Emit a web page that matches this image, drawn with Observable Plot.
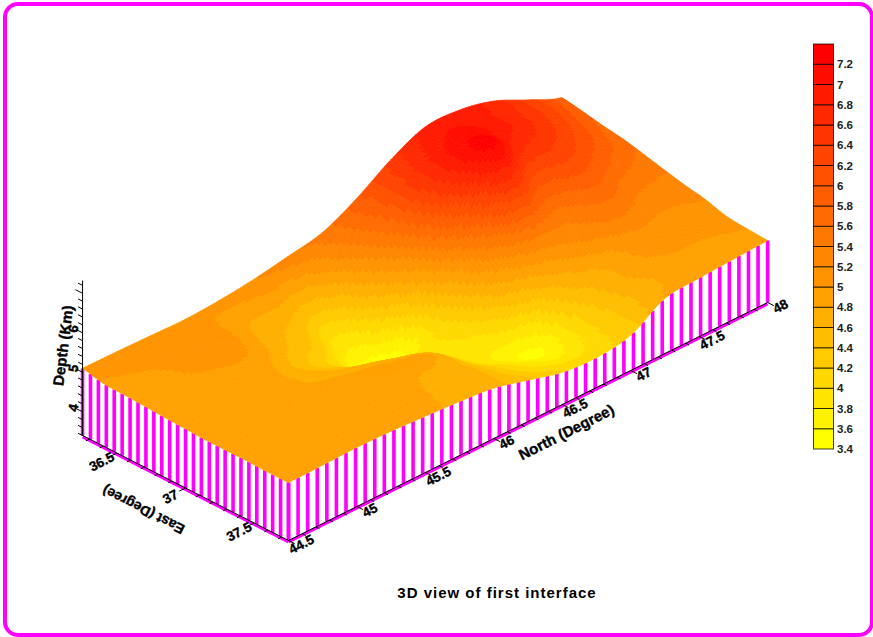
<!DOCTYPE html>
<html><head><meta charset="utf-8">
<script src="https://cdn.jsdelivr.net/npm/d3@7"></script>
<script src="https://cdn.jsdelivr.net/npm/@observablehq/plot@0.6"></script>
<style>
html,body{margin:0;padding:0;background:#fff}
#page{position:relative;width:873px;height:637px;overflow:hidden}
#page svg{position:absolute;left:0;top:0;background:transparent}
#border{position:absolute;left:3px;top:2px;right:-1px;bottom:0;box-sizing:border-box;border:4px solid #f0f;border-radius:15px}
#title{position:absolute;left:297px;width:400px;top:584px;text-align:center;font:bold 15px "Liberation Sans",sans-serif;letter-spacing:1px;color:#000}
</style></head><body><div id="page"><div id="border"></div><div id="title">3D view of first interface</div></div>
<script>
const north=[44.5,44.75,45,45.25,45.5,45.75,46,46.25,46.5,46.75,47,47.25,47.5,47.75,48];
const east=[37.75,37.6,37.45,37.3,37.15,37,36.85,36.7,36.55,36.4,36.25];
const depthE3775=[4.87,4.88,4.90,4.88,4.83,4.77,4.68,4.45,4.22,4.16,4.30,4.80,4.88,4.93,4.97];
const depthE3760=[4.87,4.88,4.90,4.88,4.85,4.78,4.72,4.35,4.05,3.95,4.30,4.70,4.90,4.97,5.00];
const depthE3745=[4.88,4.88,4.90,4.88,4.86,4.80,4.72,4.25,3.90,3.72,4.30,4.80,5.05,5.03,5.05];
const depthE3730=[4.88,4.88,4.90,4.88,4.85,4.85,4.75,4.10,3.75,3.60,4.50,4.85,5.15,5.12,5.20];
const depthE3715=[4.88,4.88,4.88,4.83,4.80,4.70,4.40,4.00,3.95,4.35,4.85,5.25,5.45,5.30,5.30];
const depthE3700=[4.90,4.90,4.90,4.82,4.62,4.30,3.70,3.90,4.25,5.00,5.55,5.45,5.75,5.50,5.42];
const depthE3685=[4.92,4.93,4.95,4.85,4.50,4.10,3.50,3.65,4.65,5.60,6.60,5.95,6.10,5.80,5.55];
const depthE3670=[4.95,4.97,5.00,5.00,4.65,4.35,3.80,4.40,5.20,6.40,7.30,6.60,6.40,6.05,5.67];
const depthE3655=[4.97,4.98,5.05,5.07,4.75,4.55,4.20,4.90,5.65,6.70,7.15,6.90,6.60,6.20,5.75];
const depthE3640=[4.99,5.03,5.07,5.08,4.85,4.85,4.75,5.30,5.85,6.60,7.00,6.90,6.65,6.30,5.85];
const depthE3625=[5.10,5.09,5.07,5.05,5.10,5.20,5.35,5.52,5.95,6.50,6.90,6.90,6.70,6.30,5.93];
const depthRows=[depthE3775,depthE3760,depthE3745,depthE3730,depthE3715,depthE3700,depthE3685,depthE3670,depthE3655,depthE3640,depthE3625];

const levels=[3.4,3.6,3.8,4,4.2,4.4,4.6,4.8,5,5.2,5.4,5.6,5.8,6,6.2,6.4,6.6,6.8,7,7.2,7.4];
const levelColors=["#ffff00","#fff200","#ffe500","#ffd800","#ffca00","#ffbd00","#ffaf00","#ffa100","#ff9400","#ff8600","#ff7900","#ff6b00","#ff5e00","#ff5000","#ff4300","#ff3500","#ff2800","#ff1a00","#ff0d00","#ff0000"];
const legendTicks=levels.slice(0,-1);
const northTicks=[44.5,45,45.5,46,46.5,47,47.5,48];
const eastTicks=[36.5,37,37.5];
const depthTicks=[4,5,6];
const colorScale={type:"threshold",domain:levels.slice(1,-1),range:levelColors};

const view={x0:288,y0:540,nx:136.9,ny:-68,ex:137.3,ey:70,z:39.5,zBase:3.4};
const sx=(n,e)=>view.x0+(n-44.5)*view.nx+(e-37.75)*view.ex;
const sy=(n,e,z)=>view.y0+(n-44.5)*view.ny+(e-37.75)*view.ey-(z-view.zBase)*view.z;

const cr=(a,b,c,d,t)=>0.5*(2*b+(c-a)*t+(2*a-5*b+4*c-d)*t*t+(3*b-a-3*c+d)*t*t*t);
const at=(r,c)=>depthRows[Math.max(0,Math.min(10,r))][Math.max(0,Math.min(14,c))];
function surf(i,j){
  const c=Math.min(13,Math.floor(i)),r=Math.min(9,Math.floor(j)),tc=i-c,tr=j-r;
  const rowVal=k=>cr(at(r+k,c-1),at(r+k,c),at(r+k,c+1),at(r+k,c+2),tc);
  return cr(rowVal(-1),rowVal(0),rowVal(1),rowVal(2),tr);
}
const nOf=i=>44.5+i*0.25, eOf=j=>37.75-j*0.15;
const S=11;
const quads=[];
let id=0;
for(let a=14*S-1;a>=0;a--)for(let b=10*S-1;b>=0;b--){
  const corners=[[a,b],[a+1,b],[a+1,b+1],[a,b+1],[a,b]];
  const mean=d3.mean(corners.slice(0,4),([p,q])=>surf(p/S,q/S));
  for(const [p,q] of corners){
    const n=nOf(p/S),e=eOf(q/S),z=surf(p/S,q/S);
    quads.push({id,x:sx(n,e),y:sy(n,e,z),depth:mean});
  }
  id++;
}
const stripes=[];
for(let k=0;k<=50;k++){const n=44.5+k*3.5/50,e=37.75,z=surf(k*14/50,0);stripes.push({x:sx(n,e),y1:sy(n,e,view.zBase),y2:sy(n,e,z)});}
for(let k=0;k<=26;k++){const n=44.5,e=37.75-k*1.5/26,z=surf(0,k*10/26);stripes.push({x:sx(n,e),y1:sy(n,e,view.zBase),y2:sy(n,e,z)});}

const nMinor=d3.range(0,36).map(k=>44.5+k*0.1), eMinor=d3.range(0,15).map(k=>36.3+k*0.1), zMinor=d3.range(0,20).map(k=>3.4+k*0.2);
const nT=(v,len)=>({x1:sx(v,37.75),y1:sy(v,37.75,3.4),x2:sx(v,37.75)+len*0.89,y2:sy(v,37.75,3.4)+len*0.45});
const eT=(v,len)=>({x1:sx(44.5,v),y1:sy(44.5,v,3.4),x2:sx(44.5,v)-len*0.89,y2:sy(44.5,v,3.4)+len*0.45});
const zT=(v,len)=>({x1:sx(44.5,36.25),y1:sy(44.5,36.25,v),x2:sx(44.5,36.25)-len*0.89,y2:sy(44.5,36.25,v)-len*0.45});
const tickLinks=[...nMinor.map(v=>nT(v,Math.abs(v*2-Math.round(v*2))<1e-6?7:4)),...eMinor.map(v=>eT(v,Math.abs(v*2-Math.round(v*2))<1e-6?7:4)),...zMinor.map(v=>zT(v,Math.abs(v-Math.round(v))<1e-6?8:5))];
const bold={fontFamily:"Liberation Sans",fontWeight:"bold",fill:"#000",stroke:"#000",strokeWidth:0.35};

const chart=Plot.plot({
  width:873,height:637,margin:0,
  x:{domain:[0,873],range:[0,873],axis:null},
  y:{domain:[0,637],range:[0,637],axis:null},
  color:colorScale,
  marks:[
    Plot.link(stripes,{x1:"x",x2:"x",y1:"y1",y2:"y2",stroke:"#ff00ff",strokeWidth:3.6}),
    Plot.link([[44.5,37.75,48,37.75],[44.5,37.75,44.5,36.25]],{x1:d=>sx(d[0],d[1]),y1:d=>sy(d[0],d[1],3.4)+1.5,x2:d=>sx(d[2],d[3]),y2:d=>sy(d[2],d[3],3.4)+1.5,stroke:"#ff00ff",strokeWidth:3}),
    Plot.line(quads,{x:"x",y:"y",z:"id",fill:"depth",stroke:"depth",strokeWidth:0.7}),
    Plot.link([[44.5,37.75,48,37.75],[44.5,37.75,44.5,36.25]],{x1:d=>sx(d[0],d[1]),y1:d=>sy(d[0],d[1],3.4),x2:d=>sx(d[2],d[3]),y2:d=>sy(d[2],d[3],3.4),stroke:"#000",strokeWidth:1}),
    Plot.link([[3.4,7.32]],{x1:sx(44.5,36.25),x2:sx(44.5,36.25),y1:d=>sy(44.5,36.25,d[0]),y2:d=>sy(44.5,36.25,d[1]),stroke:"#000",strokeWidth:1}),
    Plot.link(tickLinks,{x1:"x1",y1:"y1",x2:"x2",y2:"y2",stroke:"#000",strokeWidth:1}),
    Plot.text(northTicks,{x:d=>sx(d,37.75)+13,y:d=>sy(d,37.75,3.4)+4,text:d=>String(d),rotate:-27,fontSize:13.5,...bold}),
    Plot.text(eastTicks,{x:d=>sx(44.5,d)-15,y:d=>sy(44.5,d,3.4)+9,text:d=>String(d),rotate:-27,fontSize:13.5,...bold}),
    Plot.text(depthTicks,{x:d=>sx(44.5,36.25)-9,y:d=>sy(44.5,36.25,d)-4,text:d=>String(d),rotate:-80,fontSize:13.5,...bold}),
    Plot.text(["North (Degree)"],{x:566,y:432,text:d=>d,rotate:-27,fontSize:15,...bold}),
    Plot.text(["East (Degree)"],{x:143,y:509,text:d=>d,rotate:207,fontSize:14,...bold}),
    Plot.text(["Depth (Km)"],{x:63,y:345,text:d=>d,rotate:-83,fontSize:15,...bold})
  ]
});
const legendBands=levels.slice(0,-1).map((v,k)=>({lo:v,hi:levels[k+1],mid:v+0.1}));
const legend=Plot.plot({
  width:873,height:637,marginTop:44,marginBottom:637-449,marginLeft:813.5,marginRight:873-833.5,
  x:{axis:null,domain:[0,1]},
  y:{domain:[3.4,7.4]},
  color:colorScale,
  marks:[
    Plot.rect(legendBands,{x1:0,x2:1,y1:"lo",y2:"hi",fill:"mid",stroke:"#000",strokeOpacity:0.75,strokeWidth:1}),
    Plot.axisY(legendTicks,{anchor:"right",tickSize:0,tickPadding:3,label:null,tickFormat:d=>String(+d.toFixed(1)),fontFamily:"Liberation Sans",fontSize:11.5,fontWeight:"bold",fill:"#222"})
  ]
});
const page=document.getElementById("page");
page.appendChild(chart);page.appendChild(legend);
</script></body></html>
